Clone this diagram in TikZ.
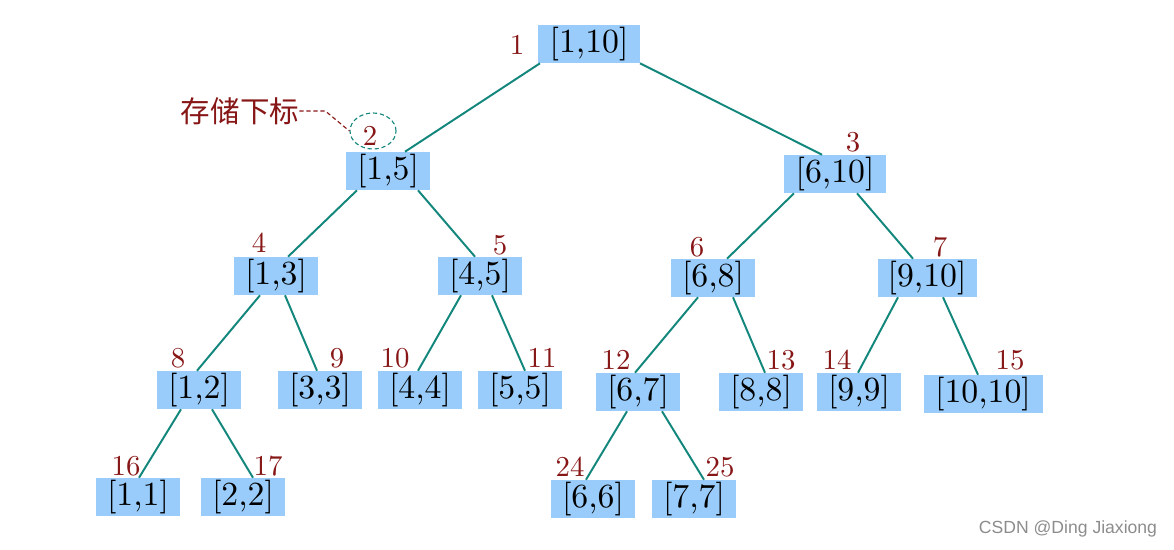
\documentclass[tikz,border=0pt]{standalone}
\usepackage{fontspec}
\usetikzlibrary{calc,positioning,shapes.geometric}
\newfontfamily\cjk{Noto Sans CJK SC}
\newfontfamily\wmfont{Liberation Sans}
\newfontfamily\segfont{lmroman10-regular.otf}
\definecolor{segblue}{RGB}{153,204,250}
\definecolor{segteal}{RGB}{20,135,125}
\definecolor{segred}{RGB}{135,22,22}
\definecolor{seggray}{RGB}{140,140,140}
\tikzset{
  seg/.style={
    rectangle, fill=segblue, minimum width=2.1cm, minimum height=0.95cm,
    inner sep=0pt, text centered, font=\segfont\fontsize{24}{27}\selectfont
  },
  segW/.style={seg, minimum width=2.55cm},
  segX/.style={seg, minimum width=2.975cm},
  idx/.style={text=segred, inner sep=0pt, font=\segfont\fontsize{20.5}{23}\selectfont},
  link/.style={segteal, line width=1.4pt},
  leader/.style={segred, densely dashed, thick},
  ring/.style={
    ellipse, draw=segteal, densely dashed, thick,
    minimum width=1.15cm, minimum height=0.9cm, inner sep=0pt
  }
}

\begin{document}
\begin{tikzpicture}[x=0.025cm, y=-0.025cm]
  \useasboundingbox (0,0) rectangle (1174,549);

  % segments, named by storage index
  \node[segW] (s1)  at (589,44)  {[1,10]};
  \node[seg]  (s2)  at (388,171) {[1,5]};
  \node[segW] (s3)  at (835,174) {[6,10]};
  \node[seg]  (s4)  at (276,276) {[1,3]};
  \node[seg]  (s5)  at (480,276) {[4,5]};
  \node[seg]  (s6)  at (713,278) {[6,8]};
  \node[seg, minimum width=2.475cm] (s7) at (927,278) {[9,10]};
  \node[seg]  (s8)  at (199,390) {[1,2]};
  \node[seg]  (s9)  at (320,390) {[3,3]};
  \node[seg]  (s10) at (420,390) {[4,4]};
  \node[seg]  (s11) at (520,390) {[5,5]};
  \node[seg]  (s12) at (638,392) {[6,7]};
  \node[seg]  (s13) at (761,392) {[8,8]};
  \node[seg]  (s14) at (859,392) {[9,9]};
  \node[segX] (s15) at (983,394) {[10,10]};
  \node[seg]  (s16) at (138,497) {[1,1]};
  \node[seg]  (s17) at (243,497) {[2,2]};
  \node[seg]  (s24) at (593,499) {[6,6]};
  \node[seg]  (s25) at (694,499) {[7,7]};

  % storage indexes
  \node[idx] (i1)  at (517,45)  {1};
  \node[idx] (i2)  at (370,136) {2};
  \node[idx] (i3)  at (853,142) {3};
  \node[idx] (i4)  at (259,243) {4};
  \node[idx] (i5)  at (500,245) {5};
  \node[idx] (i6)  at (697,247) {6};
  \node[idx] (i7)  at (940,247) {7};
  \node[idx] (i8)  at (178,358) {8};
  \node[idx] (i9)  at (337,358) {9};
  \node[idx] (i10) at (395,358) {10};
  \node[idx] (i11) at (542,358) {11};
  \node[idx] (i12) at (616,360) {12};
  \node[idx] (i13) at (781,360) {13};
  \node[idx] (i14) at (837,360) {14};
  \node[idx] (i15) at (1010,360) {15};
  \node[idx] (i16) at (126,466) {16};
  \node[idx] (i17) at (268,466) {17};
  \node[idx] (i24) at (570,467) {24};
  \node[idx] (i25) at (720,467) {25};

  % tree links
  \draw[link] ($(s1.south)+(-49,0)$)  -- ($(s2.north)+(17,0)$);
  \draw[link] ($(s1.south)+(51,0)$)   -- ($(s3.north)+(-13,0)$);
  \draw[link] ($(s2.south)+(-31,0)$)  -- ($(s4.north)+(12,0)$);
  \draw[link] ($(s2.south)+(30,0)$)   -- ($(s5.north)+(-5,0)$);
  \draw[link] ($(s3.south)+(-41,0)$)  -- ($(s6.north)+(14,0)$);
  \draw[link] ($(s3.south)+(22,0)$)   -- ($(s7.north)+(-14,0)$);
  \draw[link] ($(s4.south)+(-16,0)$)  -- ($(s8.north)+(-2,0)$);
  \draw[link] ($(s4.south)+(9,0)$)    -- ($(s9.north)+(-3,0)$);
  \draw[link] ($(s5.south)+(-19,0)$)  -- ($(s10.north)+(-2,0)$);
  \draw[link] ($(s5.south)+(12,0)$)   -- ($(s11.north)+(5,0)$);
  \draw[link] ($(s6.south)+(-15,0)$)  -- ($(s12.north)+(-3,0)$);
  \draw[link] ($(s6.south)+(20,0)$)   -- ($(s13.north)+(4,0)$);
  \draw[link] ($(s7.south)+(-29,0)$)  -- ($(s14.north)+(-1,0)$);
  \draw[link] ($(s7.south)+(16,0)$)   -- ($(s15.north)+(-5,0)$);
  \draw[link] ($(s8.south)+(-18,0)$)  -- ($(s16.north)+(1,0)$);
  \draw[link] ($(s8.south)+(13,0)$)   -- ($(s17.north)+(10,0)$);
  \draw[link] ($(s12.south)+(-11,0)$) -- ($(s24.north)+(-7,0)$);
  \draw[link] ($(s12.south)+(24,0)$)  -- ($(s25.north)+(10,0)$);

  % note on the storage index
  \node[ring] (ring) at (373,131) {};
  \node[text=segred, inner sep=0pt, font=\cjk\fontsize{21}{24}\selectfont]
        (note) at (240,111) {存储下标};
  \draw[leader] (note.east) -- ++(26,0) -- (ring.west);

  \node[text=seggray, inner sep=0pt, font=\wmfont\fontsize{12.5}{15}\selectfont]
        (wm) at (1068,529) {CSDN @Ding Jiaxiong};
\end{tikzpicture}
\end{document}
